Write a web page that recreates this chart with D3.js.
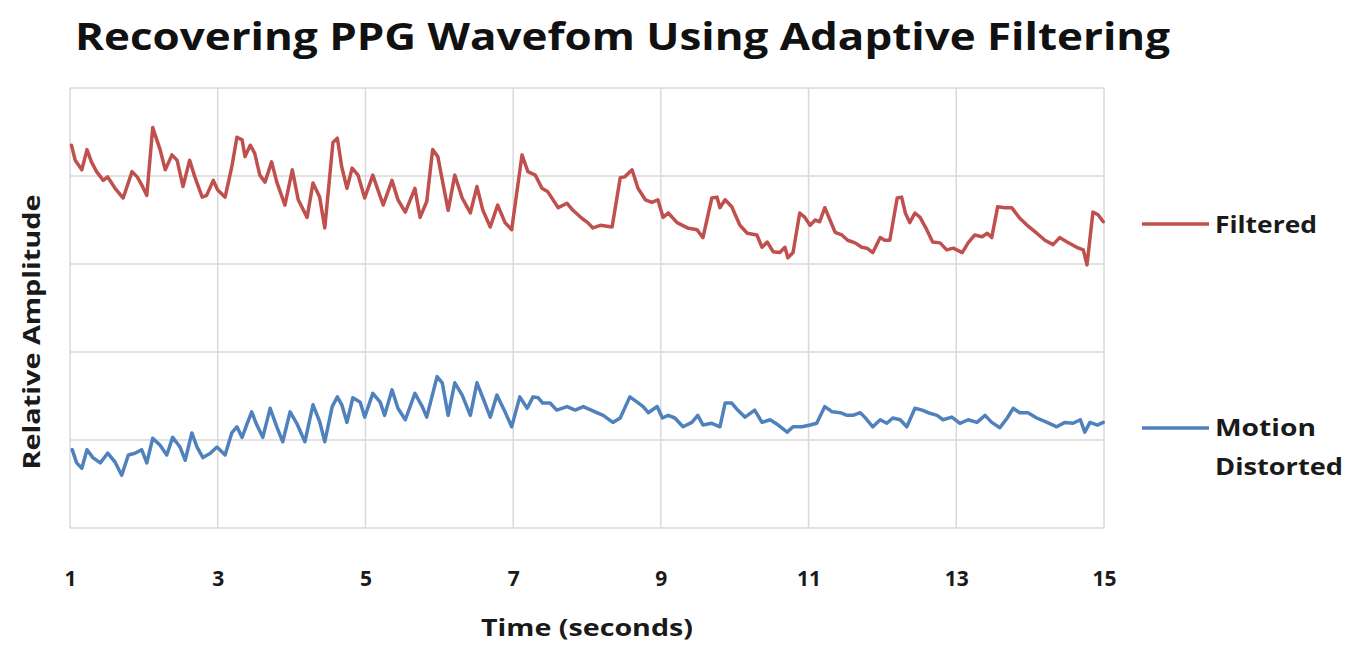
<!DOCTYPE html>
<html><head><meta charset="utf-8">
<script src="https://cdn.jsdelivr.net/npm/d3@7"></script>
<style>html,body{margin:0;padding:0;background:#fff;}svg{display:block;}</style>
</head><body>
<svg id="chart" width="1365" height="648"></svg>
<script>
// ---- data (time in seconds, relative amplitude in gridline units) ----
const xTicks = [1, 3, 5, 7, 9, 11, 13, 15];
const yGrid = [0, 1, 2, 3, 4, 5];
const seriesNames = ["Filtered", "Motion Distorted"];

const filteredT = [1.02,1.07,1.16,1.23,1.29,1.36,1.45,1.51,1.61,1.72,1.84,1.91,1.97,2.04,2.12,2.22,2.29,2.38,2.45,2.53,2.62,2.69,2.79,2.85,2.94,3.00,3.10,3.19,3.26,3.33,3.37,3.44,3.50,3.57,3.64,3.73,3.80,3.91,4.01,4.09,4.21,4.29,4.38,4.45,4.56,4.62,4.68,4.75,4.82,4.90,4.99,5.10,5.24,5.36,5.44,5.54,5.67,5.74,5.83,5.91,5.98,6.12,6.21,6.31,6.42,6.51,6.59,6.69,6.79,6.89,6.98,7.12,7.20,7.30,7.39,7.47,7.61,7.73,7.81,7.93,8.01,8.08,8.18,8.34,8.45,8.51,8.61,8.69,8.79,8.88,8.96,9.03,9.10,9.22,9.36,9.49,9.57,9.69,9.76,9.80,9.87,9.96,10.07,10.17,10.30,10.37,10.44,10.52,10.61,10.68,10.72,10.79,10.88,10.95,11.02,11.09,11.15,11.22,11.29,11.36,11.45,11.53,11.63,11.72,11.79,11.87,11.97,12.03,12.10,12.20,12.26,12.31,12.37,12.44,12.51,12.60,12.68,12.78,12.87,12.96,13.08,13.16,13.25,13.35,13.42,13.48,13.56,13.66,13.75,13.86,13.96,14.09,14.20,14.31,14.40,14.50,14.63,14.72,14.77,14.85,14.92,14.99];
const filteredV = [4.35,4.18,4.07,4.30,4.16,4.05,3.95,3.99,3.86,3.75,4.05,3.99,3.90,3.78,4.55,4.30,4.07,4.24,4.18,3.88,4.18,3.99,3.76,3.78,3.95,3.84,3.76,4.10,4.44,4.41,4.22,4.35,4.26,4.01,3.93,4.16,3.93,3.67,4.07,3.73,3.53,3.92,3.76,3.41,4.38,4.43,4.10,3.86,4.09,4.01,3.75,4.01,3.67,3.95,3.73,3.59,3.86,3.53,3.71,4.30,4.22,3.61,4.01,3.75,3.58,3.88,3.61,3.42,3.67,3.47,3.39,4.24,4.05,4.01,3.86,3.82,3.64,3.69,3.61,3.52,3.47,3.41,3.44,3.42,3.98,3.99,4.07,3.86,3.73,3.70,3.73,3.53,3.58,3.47,3.41,3.39,3.30,3.75,3.76,3.64,3.73,3.65,3.44,3.35,3.33,3.19,3.25,3.14,3.13,3.19,3.07,3.13,3.58,3.53,3.44,3.50,3.48,3.64,3.50,3.36,3.33,3.27,3.24,3.19,3.18,3.13,3.30,3.27,3.27,3.75,3.76,3.58,3.47,3.58,3.53,3.39,3.25,3.24,3.16,3.18,3.13,3.24,3.33,3.31,3.35,3.30,3.65,3.64,3.64,3.52,3.44,3.35,3.27,3.22,3.30,3.25,3.19,3.16,2.99,3.59,3.56,3.48];

const motionT = [1.03,1.09,1.16,1.23,1.31,1.41,1.51,1.61,1.70,1.79,1.88,1.97,2.04,2.12,2.22,2.31,2.39,2.49,2.56,2.65,2.72,2.80,2.90,2.99,3.10,3.19,3.26,3.33,3.40,3.46,3.53,3.61,3.71,3.80,3.88,3.98,4.07,4.18,4.29,4.38,4.45,4.55,4.62,4.68,4.75,4.83,4.93,4.99,5.10,5.20,5.26,5.36,5.44,5.54,5.67,5.77,5.83,5.97,6.04,6.12,6.21,6.31,6.42,6.51,6.59,6.69,6.78,6.89,6.98,7.09,7.19,7.27,7.34,7.40,7.50,7.59,7.73,7.84,7.95,8.11,8.22,8.35,8.45,8.58,8.68,8.76,8.83,8.95,9.02,9.10,9.19,9.30,9.42,9.50,9.57,9.69,9.80,9.87,9.96,10.04,10.14,10.27,10.37,10.48,10.59,10.71,10.79,10.91,11.02,11.11,11.22,11.32,11.43,11.52,11.60,11.70,11.76,11.87,11.97,12.06,12.14,12.24,12.33,12.44,12.54,12.62,12.74,12.82,12.94,13.05,13.16,13.28,13.39,13.48,13.59,13.69,13.77,13.86,13.97,14.09,14.23,14.36,14.47,14.58,14.68,14.74,14.81,14.91,14.99];
const motionV = [0.89,0.74,0.68,0.89,0.80,0.74,0.85,0.75,0.60,0.83,0.85,0.89,0.74,1.02,0.94,0.83,1.03,0.92,0.77,1.08,0.92,0.80,0.85,0.92,0.83,1.08,1.15,1.03,1.19,1.32,1.17,1.03,1.36,1.15,0.98,1.32,1.19,0.98,1.40,1.21,0.98,1.38,1.49,1.40,1.20,1.48,1.43,1.26,1.53,1.43,1.28,1.57,1.36,1.23,1.53,1.38,1.26,1.72,1.65,1.28,1.65,1.51,1.28,1.65,1.48,1.26,1.51,1.32,1.15,1.49,1.36,1.49,1.48,1.42,1.42,1.34,1.38,1.34,1.38,1.32,1.28,1.20,1.25,1.49,1.43,1.38,1.31,1.38,1.25,1.28,1.25,1.15,1.20,1.28,1.17,1.19,1.15,1.42,1.42,1.34,1.26,1.34,1.20,1.23,1.17,1.09,1.15,1.15,1.17,1.19,1.38,1.32,1.31,1.28,1.28,1.31,1.26,1.15,1.23,1.19,1.25,1.23,1.15,1.36,1.34,1.31,1.28,1.23,1.26,1.19,1.23,1.20,1.28,1.20,1.14,1.25,1.36,1.31,1.31,1.25,1.20,1.15,1.20,1.19,1.23,1.09,1.20,1.17,1.20];

const colors = ["#c0504d", "#4f81bd"];

// ---- chart ----
const svg = d3.select("#chart");
const plot = {left: 70, right: 1104, top: 88, bottom: 528};
const x = d3.scaleLinear().domain([1, 15]).range([plot.left, plot.right]);
const y = d3.scaleLinear().domain([0, 5]).range([plot.bottom, plot.top]);
const font = "'Open Sans', 'DejaVu Sans', sans-serif";

// gridlines
svg.append("g").selectAll("line").data(yGrid).join("line")
  .attr("x1", plot.left).attr("x2", plot.right)
  .attr("y1", d => y(d)).attr("y2", d => y(d))
  .attr("stroke", "#d9d9d9").attr("stroke-width", 1.5);
svg.append("g").selectAll("line").data(xTicks).join("line")
  .attr("x1", d => x(d)).attr("x2", d => x(d))
  .attr("y1", plot.top).attr("y2", plot.bottom)
  .attr("stroke", "#d9d9d9").attr("stroke-width", 1.5);

// x axis labels
const xAxis = d3.axisBottom(x).tickValues(xTicks).tickSize(0).tickPadding(0);
const gx = svg.append("g").attr("transform", `translate(0,${plot.bottom})`).call(xAxis);
gx.select(".domain").remove();
gx.selectAll("text").attr("y", 58).attr("dy", 0)
  .style("font-family", font).style("font-weight", "700").style("font-size", "21px").attr("fill", "#1a1a1a");

// lines
const line = d3.line().x(d => x(d[0])).y(d => y(d[1])).curve(d3.curveLinear);
const series = [d3.zip(filteredT, filteredV), d3.zip(motionT, motionV)];
svg.append("g").selectAll("path").data(series).join("path")
  .attr("d", line).attr("fill", "none")
  .attr("stroke", (d, i) => colors[i]).attr("stroke-width", 3.5)
  .attr("stroke-linejoin", "round").attr("stroke-linecap", "round");

// title
svg.append("text").attr("x", 75).attr("y", 50)
  .attr("textLength", 1095).attr("lengthAdjust", "spacingAndGlyphs")
  .style("font-family", font).style("font-weight", "700").style("font-size", "37px").attr("fill", "#111")
  .text("Recovering PPG Wavefom Using Adaptive Filtering");

// axis titles
svg.append("text").attr("x", 587).attr("y", 636).attr("text-anchor", "middle")
  .attr("textLength", 212).attr("lengthAdjust", "spacingAndGlyphs")
  .style("font-family", font).style("font-weight", "700").style("font-size", "24px").attr("fill", "#1a1a1a")
  .text("Time (seconds)");
svg.append("text").attr("transform", "translate(40,332) rotate(-90)").attr("text-anchor", "middle")
  .attr("textLength", 275).attr("lengthAdjust", "spacingAndGlyphs")
  .style("font-family", font).style("font-weight", "700").style("font-size", "24px").attr("fill", "#1a1a1a")
  .text("Relative Amplitude");

// legend
const legendY = [224, 428];
const lg = svg.append("g");
lg.selectAll("line").data(seriesNames).join("line")
  .attr("x1", 1142).attr("x2", 1209)
  .attr("y1", (d, i) => legendY[i]).attr("y2", (d, i) => legendY[i])
  .attr("stroke", (d, i) => colors[i]).attr("stroke-width", 3.5);
lg.append("text").attr("x", 1215).attr("y", 233)
  .attr("textLength", 102).attr("lengthAdjust", "spacingAndGlyphs")
  .style("font-family", font).style("font-weight", "700").style("font-size", "23px").attr("fill", "#1a1a1a")
  .text(seriesNames[0]);
const words = seriesNames[1].split(" ");
lg.append("text").attr("x", 1215).attr("y", 436)
  .attr("textLength", 101).attr("lengthAdjust", "spacingAndGlyphs")
  .style("font-family", font).style("font-weight", "700").style("font-size", "23px").attr("fill", "#1a1a1a")
  .text(words[0]);
lg.append("text").attr("x", 1215).attr("y", 475)
  .attr("textLength", 128).attr("lengthAdjust", "spacingAndGlyphs")
  .style("font-family", font).style("font-weight", "700").style("font-size", "23px").attr("fill", "#1a1a1a")
  .text(words[1]);
</script>
</body></html>
